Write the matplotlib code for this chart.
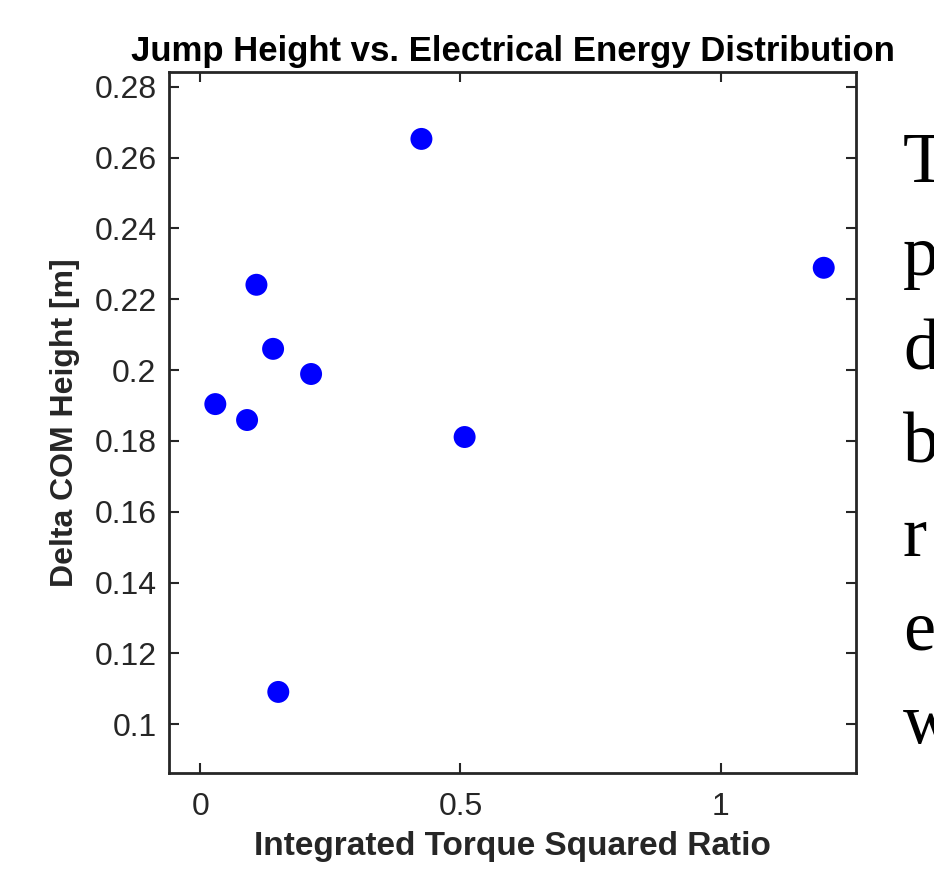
import numpy as np
import matplotlib.pyplot as plt

# data
torque_ratio = [0.425, 1.198, 0.108, 0.140, 0.213, 0.029, 0.090, 0.508, 0.150]
delta_com = [0.2653, 0.2289, 0.2241, 0.2060, 0.1989, 0.1904, 0.1859, 0.1811, 0.1091]

x_ticks = [0, 0.5, 1]
x_tick_labels = ["0", "0.5", "1"]
y_ticks = [0.1, 0.12, 0.14, 0.16, 0.18, 0.2, 0.22, 0.24, 0.26, 0.28]
y_tick_labels = ["0.1", "0.12", "0.14", "0.16", "0.18", "0.2", "0.22", "0.24", "0.26", "0.28"]

# cut-off paragraph letters at the right edge
side_letters = ["T", "p", "d", "b", "r", "e", "w"]

plt.rcParams["font.family"] = ["Liberation Sans", "DejaVu Sans"]

fig = plt.figure(figsize=(9.34, 8.69), dpi=100)
ax = fig.add_axes([169 / 934, 1 - 773 / 869, (856 - 169) / 934, (773 - 72) / 869])

ax.scatter(torque_ratio, delta_com, s=250, color="#0000ff", edgecolors="none", zorder=3)

ax.set_xlim(-0.06, 1.26)
ax.set_ylim(0.0862, 0.2842)
ax.set_xticks(x_ticks)
ax.set_xticklabels(x_tick_labels)
ax.set_yticks(y_ticks)
ax.set_yticklabels(y_tick_labels)

ax.tick_params(direction="in", length=7, width=1.5, top=True, right=True,
               labelsize=23, labelcolor="#262626", color="#262626")
ax.tick_params(axis="y", pad=9)
ax.tick_params(axis="x", pad=14)
for s in ax.spines.values():
    s.set_linewidth(2)
    s.set_color("#262626")

ax.set_title("Jump Height vs. Electrical Energy Distribution", fontsize=25,
             fontweight="bold", pad=8)
ax.set_xlabel("Integrated Torque Squared Ratio", fontsize=24, fontweight="bold",
              color="#262626", labelpad=6)
ax.set_ylabel("Delta COM Height [m]", fontsize=23, fontweight="bold",
              color="#262626", labelpad=10)

# side text, large serif
for i, letter in enumerate(side_letters):
    fig.text(903 / 934, 1 - (182 + i * 93.5) / 869, letter, fontsize=52,
             family="Liberation Serif", va="baseline", ha="left")

fig.savefig("out.png", dpi=100)
